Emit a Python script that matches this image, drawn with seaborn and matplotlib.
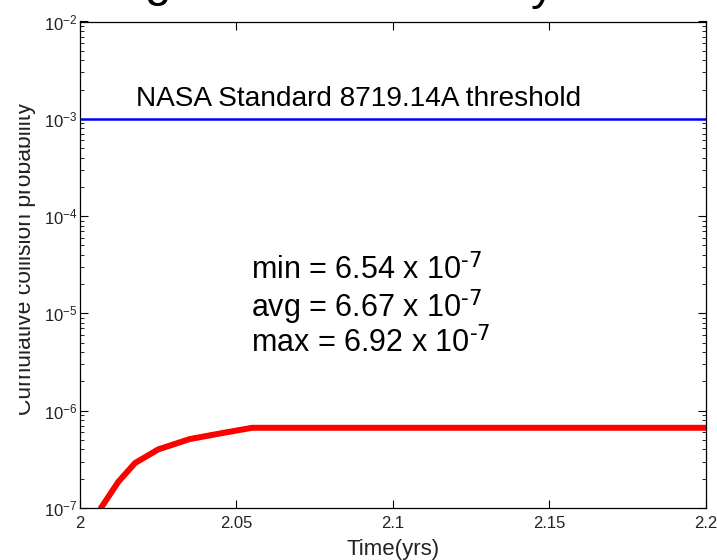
import matplotlib
matplotlib.use("Agg")
import matplotlib.pyplot as plt
import seaborn as sns
import pandas as pd
import numpy as np
from matplotlib.ticker import LogLocator, FixedLocator, FixedFormatter
from matplotlib.patches import Rectangle

sns.set_style("ticks")
plt.rcParams['font.family'] = ['Liberation Sans', 'DejaVu Sans']
plt.rcParams['mathtext.default'] = 'regular'
plt.rcParams['text.color'] = 'black'
plt.rcParams['axes.labelcolor'] = 'black'

# data
time_yrs = [2.0067, 2.0122, 2.0176, 2.025, 2.035, 2.045, 2.055, 2.2]
prob_red = [1.0e-7, 1.85e-7, 2.9e-7, 4.0e-7, 5.1e-7, 5.85e-7, 6.67e-7, 6.67e-7]
prob_green = [1.03e-7, 1.92e-7, 3.0e-7, 4.15e-7, 5.3e-7, 6.05e-7, 6.92e-7, 6.92e-7]
prob_blue = [0.97e-7, 1.78e-7, 2.8e-7, 3.86e-7, 4.95e-7, 5.68e-7, 6.54e-7, 6.54e-7]
prob_magenta = [0.98e-7, 1.81e-7, 2.85e-7, 3.93e-7, 5.03e-7, 5.78e-7, 6.6e-7, 6.6e-7]
prob_yellow = [1.02e-7, 1.89e-7, 2.95e-7, 4.08e-7, 5.2e-7, 5.95e-7, 6.8e-7, 6.8e-7]
threshold_x = [2.0, 2.2]
threshold_y = [1e-3, 1e-3]
xtick_vals = [2.0, 2.05, 2.1, 2.15, 2.2]
xtick_labels = ["2", "2.05", "2.1", "2.15", "2.2"]

fig = plt.figure(figsize=(7.17, 5.6), dpi=100)
ax = fig.add_axes([80 / 717, 0.0929, 706 / 717 - 80 / 717, (1 - 21.5 / 560) - 0.0929])

series = [("blue", prob_blue, "#3030ff"), ("magenta", prob_magenta, "#e040e0"),
          ("yellow", prob_yellow, "#d8d000"), ("green", prob_green, "#10a010"),
          ("red", prob_red, "#ff0000")]
for name, vals, col in series:
    df = pd.DataFrame({"t": time_yrs, "p": vals})
    lw = 4.3 if name == "red" else 1.5
    sns.lineplot(data=df, x="t", y="p", ax=ax, color=col, linewidth=lw,
                 estimator=None, sort=False)

dft = pd.DataFrame({"t": threshold_x, "p": threshold_y})
sns.lineplot(data=dft, x="t", y="p", ax=ax, color="#0000ff", linewidth=1.8,
             estimator=None)

ax.set_yscale("log")
ax.set_xlim(2.0, 2.2)
ax.set_ylim(1e-7, 1e-2)
ax.xaxis.set_major_locator(FixedLocator(xtick_vals))
ax.xaxis.set_major_formatter(FixedFormatter(xtick_labels))
ax.yaxis.set_major_locator(LogLocator(base=10, numticks=10))
ax.yaxis.set_minor_locator(LogLocator(base=10, subs=np.arange(2, 10), numticks=100))
ax.tick_params(which="both", direction="in", top=True, right=True,
               labelsize=12, colors="black", labelcolor="#222222")
ax.tick_params(axis="x", which="major", pad=6)
ax.tick_params(axis="y", which="major", pad=2)
ax.tick_params(which="major", length=6, width=0.8)
ax.tick_params(which="minor", length=3, width=0.6)
for s in ax.spines.values():
    s.set_linewidth(0.9)
    s.set_color("black")

ax.set_xlabel("Time(yrs)", fontsize=16, color="#222222")
ax.xaxis.set_label_coords(0.5, -0.064)
ax.set_ylabel("Cumulative collision probability", fontsize=16.5, color="#222222")
ax.yaxis.set_label_coords(-0.0703, 0.512)

ax.text(2.0178, 1.18e-3, "NASA Standard 8719.14A threshold",
        fontsize=20.2, ha="left", va="bottom")
ax.text(2.0545, 2.80e-5, "min = 6.54 x 10$^{\\text{-7}}$", fontsize=22, ha="left", va="center")
ax.text(2.0545, 1.17e-5, "avg = 6.67 x 10$^{\\text{-7}}$", fontsize=22, ha="left", va="center")
ax.text(2.0545, 4.9e-6, "max = 6.92 x 10$^{\\text{-7}}$", fontsize=22, ha="left", va="center")

# fragments of a slide title cropped at the top edge
fig.text(158 / 717, 1 + 4 / 560, "g", fontsize=34,
         ha="center", va="baseline")
fig.text(543 / 717, 1 + 1 / 560, "y", fontsize=34,
         ha="center", va="baseline")

# cropped left edge as in reference
fig.patches.append(Rectangle((0, 0), 19 / 717, 1, transform=fig.transFigure,
                             facecolor="white", edgecolor="none", zorder=10))

fig.savefig("out.png", dpi=100)
